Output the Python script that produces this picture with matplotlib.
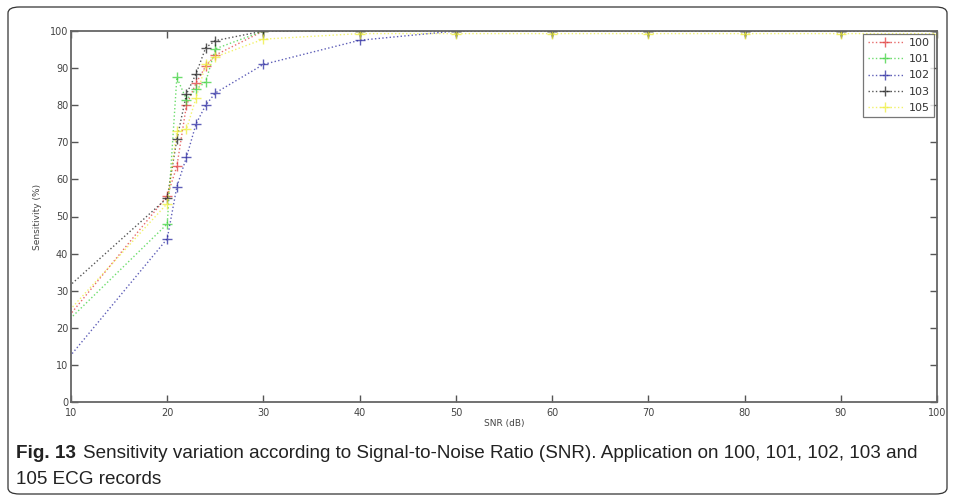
import matplotlib
matplotlib.use("Agg")
import matplotlib.pyplot as plt
from matplotlib.patches import FancyBboxPatch
from matplotlib import font_manager

# SNR levels (dB) shared by every record
snr = [5, 20, 21, 22, 23, 24, 25, 30, 40, 50, 60, 70, 80, 90, 100]

# sensitivity (%) per ECG record
sens_100 = [8, 55.5, 63.5, 80, 86, 90.5, 93.5, 100, 100, 100, 100, 100, 100, 100, 100]
sens_101 = [10, 48, 87.5, 81.5, 84.3, 86.3, 95.2, 100, 100, 100, 100, 100, 100, 100, 100]
sens_102 = [-3, 44, 58, 66, 75, 80, 83.3, 91, 97.5, 100, 100, 100, 100, 100, 100]
sens_103 = [20, 55, 70.8, 83, 88.5, 95.5, 97.4, 100, 100, 100, 100, 100, 100, 100, 100]
sens_105 = [11, 53.5, 73, 73.5, 82, 91, 93, 97.8, 99.3, 99.3, 99.3, 99.3, 99.3, 99.3, 99.3]

records = ["100", "101", "102", "103", "105"]
series = [sens_100, sens_101, sens_102, sens_103, sens_105]
colors = ["#e03a3a", "#3ed23e", "#2a2aa0", "#1e1e1e", "#eeee3a"]

xticks = [10, 20, 30, 40, 50, 60, 70, 80, 90, 100]
yticks = [0, 10, 20, 30, 40, 50, 60, 70, 80, 90, 100]

caption_bold = "Fig. 13"
caption_line1 = "Sensitivity variation according to Signal-to-Noise Ratio (SNR). Application on 100, 101, 102, 103 and"
caption_line2 = "105 ECG records"

names = {f.name for f in font_manager.fontManager.ttflist}
cap_font = "Liberation Sans Narrow" if "Liberation Sans Narrow" in names else "Liberation Sans"

fig = plt.figure(figsize=(9.55, 5.01), dpi=100)
fig.patch.set_facecolor("white")

# rounded frame around the figure and caption
frame = FancyBboxPatch((8 / 955, 7 / 501), 939 / 955, 487 / 501,
                       boxstyle="round,pad=0,rounding_size=0.012",
                       transform=fig.transFigure, facecolor="none",
                       edgecolor="#333333", linewidth=0.9)
fig.patches.append(frame)

ax = fig.add_axes([71 / 955, 99 / 501, 866 / 955, 371 / 501])

for name, vals, col in zip(records, series, colors):
    ax.plot(snr, vals, linestyle=":", color=col, linewidth=1.0, alpha=0.75,
            marker="+", markersize=7, markeredgewidth=1.0, label=name)

ax.set_xlim(10, 100)
ax.set_ylim(0, 100)
ax.set_xticks(xticks)
ax.set_yticks(yticks)
ax.tick_params(direction="in", length=5, width=1.0, colors="#555555",
               labelcolor="#444444", labelsize=7, top=True, right=True, pad=2)
ax.tick_params(axis="x", pad=4)
for spine in ax.spines.values():
    spine.set_color("#666666")
    spine.set_linewidth(1.3)

ax.set_xlabel("SNR (dB)", fontsize=6.5, color="#444444", labelpad=1)
ax.set_ylabel("Sensitivity (%)", fontsize=6.5, color="#444444", labelpad=6)

leg = ax.legend(loc="upper right", fontsize=8, frameon=True, fancybox=False,
                borderaxespad=0.25, handlelength=3.2, handletextpad=0.5,
                labelspacing=0.55, borderpad=0.4)
leg.get_frame().set_edgecolor("#555555")
leg.get_frame().set_linewidth(0.9)
for t in leg.get_texts():
    t.set_color("#333333")

cap_size = 13.6
bold = fig.text(16 / 955, 1 - 453 / 501, caption_bold, fontsize=cap_size, fontweight="bold",
                family=[cap_font, "DejaVu Sans"], color="#222222", va="center")
fig.canvas.draw()
bb = bold.get_window_extent()
fig.text((bb.x1 + 7) / 955, 1 - 453 / 501, caption_line1, fontsize=cap_size,
         family=[cap_font, "DejaVu Sans"], color="#222222", va="center")
fig.text(16 / 955, 1 - 479 / 501, caption_line2, fontsize=cap_size,
         family=[cap_font, "DejaVu Sans"], color="#222222", va="center")

fig.savefig("out.png", dpi=100)
